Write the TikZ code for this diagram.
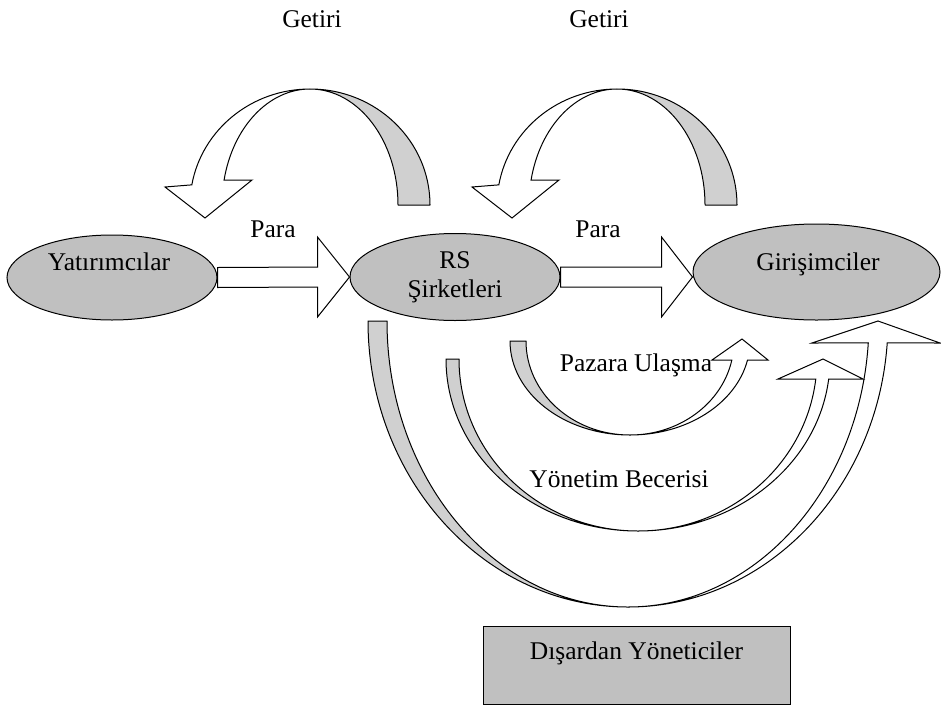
\documentclass[tikz,border=0pt]{standalone}
\usepackage{fontspec}
\setmainfont{Liberation Serif}
\usepackage{xcolor}
\usepackage{tikz}
\usetikzlibrary{shapes.geometric,calc}
\definecolor{shapegray}{HTML}{C0C0C0}
\definecolor{bandgray}{HTML}{D0D0D0}

\begin{document}
\begin{tikzpicture}[x=1pt,y=1pt,line width=1pt,
  actor/.style={ellipse,draw=black,fill=shapegray},
  band/.style={draw=black,fill=bandgray,line join=round},
  face/.style={draw=black,fill=white},
  lbl/.style={anchor=base,font=\fontsize{25.5}{29}\selectfont}]
\tikzstyle{every node}+=[inner sep=0pt]
\useasboundingbox (0,0) rectangle (941,-707);
\node [actor,minimum width=210,minimum height=85] (yat) at (112,-277.5) {};
\node [actor,minimum width=210,minimum height=87] (rs) at (455,-277) {};
\node [actor,minimum width=247,minimum height=96] (gir) at (816.5,-272) {};
\node [draw=black,fill=shapegray,minimum width=307,minimum height=78] (dis) at (636.5,-665) {};
\draw [face] ($(yat.east)+(0,10)$) -- ($(rs.west)+(-32,10)$) -- ($(rs.west)+(-32,40)$) -- (rs.west) -- ($(rs.west)+(-32,-40)$) -- ($(rs.west)+(-32,-10)$) -- ($(yat.east)+(0,-10)$) -- cycle;
\draw [face] ($(rs.east)+(0,10)$) -- ($(gir.west |- rs.east)+(-31,10)$) -- ($(gir.west |- rs.east)+(-31,40)$) -- (gir.west |- rs.east) -- ($(gir.west |- rs.east)+(-31,-40)$) -- ($(gir.west |- rs.east)+(-31,-10)$) -- ($(rs.east)+(0,-10)$) -- cycle;
\coordinate (ga) at (310,-205);
\coordinate (gb) at (617,-205);
\draw [band] ($(ga)+(90:120 and 116)$) arc [start angle=90,end angle=0,x radius=120,y radius=116] -- ($(ga)+(88,0)$) arc [start angle=0,end angle=90,x radius=88,y radius=116] -- cycle;
\draw [face] ($(ga)+(170:120 and 116)$) arc [start angle=170,end angle=90,x radius=120,y radius=116] arc [start angle=90,end angle=167.6,x radius=88,y radius=116] -- ($(ga)+(-58,25)$) -- ($(ga)+(-105,-13)$) -- ($(ga)+(-145,18)$) -- cycle;
\draw [band] ($(gb)+(90:120 and 116)$) arc [start angle=90,end angle=0,x radius=120,y radius=116] -- ($(gb)+(88,0)$) arc [start angle=0,end angle=90,x radius=88,y radius=116] -- cycle;
\draw [face] ($(gb)+(170:120 and 116)$) arc [start angle=170,end angle=90,x radius=120,y radius=116] arc [start angle=90,end angle=167.6,x radius=88,y radius=116] -- ($(gb)+(-58,25)$) -- ($(gb)+(-105,-13)$) -- ($(gb)+(-145,18)$) -- cycle;
\coordinate (da) at (628,-321);
\coordinate (ya) at (638,-359);
\coordinate (pa) at (630,-341);
\draw [band] ($(da)+(-260,0)$) arc [start angle=180,end angle=270,x radius=260,y radius=286] arc [start angle=270,end angle=180,x radius=241,y radius=286] -- cycle;
\draw [face] ($(da)+(270:260 and 286)$) arc [start angle=270,end angle=355.6,x radius=260,y radius=286] -- ($(da)+(312,-22)$) -- ($(da)+(250,0)$) -- ($(da)+(184,-22)$) -- ($(da)+(355.6:241 and 286)$) arc [start angle=355.6,end angle=270,x radius=241,y radius=286] -- cycle;
\draw [band] ($(ya)+(-192,0)$) arc [start angle=180,end angle=270,x radius=192,y radius=172] arc [start angle=270,end angle=180,x radius=179,y radius=172] -- cycle;
\draw [face] ($(ya)+(270:192 and 172)$) arc [start angle=270,end angle=353.3,x radius=192,y radius=172] -- ($(ya)+(225,-20)$) -- ($(ya)+(185,0)$) -- ($(ya)+(140,-20)$) -- ($(ya)+(353.3:179 and 172)$) arc [start angle=353.3,end angle=270,x radius=179,y radius=172] -- cycle;
\draw [band] ($(pa)+(-120,0)$) arc [start angle=180,end angle=270,x radius=120,y radius=94] arc [start angle=270,end angle=180,x radius=104,y radius=94] -- cycle;
\draw [face] ($(pa)+(270:120 and 94)$) arc [start angle=270,end angle=348.3,x radius=120,y radius=94] -- ($(pa)+(138,-19)$) -- ($(pa)+(112,2)$) -- ($(pa)+(82,-19)$) -- ($(pa)+(348.3:104 and 94)$) arc [start angle=348.3,end angle=270,x radius=104,y radius=94] -- cycle;
\node [lbl] (yattext) at (109,-270) {Yatırımcılar};
\node [lbl] (rstext) at (455,-268) {RS};
\node [lbl] (rstext2) at (455,-297) {Şirketleri};
\node [lbl] (girtext) at (818,-270) {Girişimciler};
\node [lbl] (distext) at (636.5,-659) {Dışardan Yöneticiler};
\node [lbl] (para1) at (273,-237) {Para};
\node [lbl] (para2) at (598,-237) {Para};
\node [lbl] (getiri1) at (312,-27) {Getiri};
\node [lbl] (getiri2) at (599,-27) {Getiri};
\node [lbl] (pazara) at (636,-371) {Pazara Ulaşma};
\node [lbl] (yonetim) at (619,-487) {Yönetim Becerisi};
\end{tikzpicture}
\end{document}
